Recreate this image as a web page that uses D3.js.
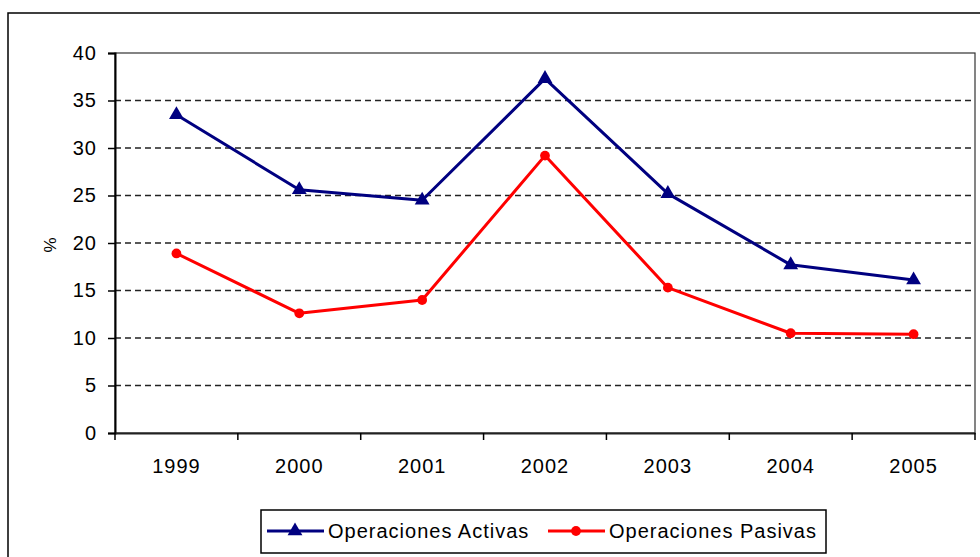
<!DOCTYPE html>
<html>
<head>
<meta charset="utf-8">
<script src="https://cdn.jsdelivr.net/npm/d3@7"></script>
<style>
  body { margin: 0; background: #fff; }
  text { font-family: "Liberation Sans", Arial, sans-serif; fill: #000; }
</style>
</head>
<body>
<svg width="980" height="557"></svg>
<script>
var years = ['1999', '2000', '2001', '2002', '2003', '2004', '2005'];
var activas = [33.5, 25.6, 24.5, 37.3, 25.2, 17.7, 16.1];
var pasivas = [18.9, 12.6, 14.0, 29.2, 15.3, 10.5, 10.4];
var yTicks = [0, 5, 10, 15, 20, 25, 30, 35, 40];
var seriesNames = ['Operaciones Activas', 'Operaciones Pasivas'];
var seriesColors = ['#000080', '#ff0000'];

var svg = d3.select('svg'),
  width = +svg.attr('width'),
  height = +svg.attr('height');

var plotLeft = 115, plotRight = 975, plotTop = 53, plotBottom = 433;

var x = d3.scaleBand().domain(years).range([plotLeft, plotRight]).padding(0);
var y = d3.scaleLinear().domain([0, 40]).range([plotBottom, plotTop]);

// outer chart frame
svg.append('rect')
  .attr('x', 8).attr('y', 13)
  .attr('width', 990).attr('height', 570)
  .attr('fill', 'none').attr('stroke', '#000').attr('stroke-width', 1.5)

// plot area border
svg.append('rect')
  .attr('x', plotLeft).attr('y', plotTop)
  .attr('width', plotRight - plotLeft).attr('height', plotBottom - plotTop)
  .attr('fill', 'none').attr('stroke', '#333').attr('stroke-width', 1.2)

// dashed grid
svg.append('g').selectAll('line')
  .data(yTicks.filter(d => d > 0 && d < 40))
  .enter().append('line')
  .attr('x1', plotLeft).attr('x2', plotRight)
  .attr('y1', d => y(d)).attr('y2', d => y(d))
  .attr('stroke', '#222').attr('stroke-width', 1.5)
  .attr('stroke-dasharray', '6,4')

// y axis
var yAxis = svg.append('g')
  .attr('transform', 'translate(' + plotLeft + ',0)')
  .call(d3.axisLeft(y).tickValues(yTicks).tickSize(7).tickPadding(11))
yAxis.select('.domain').attr('stroke', '#000').attr('stroke-width', 2)
yAxis.selectAll('.tick line').attr('stroke', '#000').attr('stroke-width', 1.5)
yAxis.selectAll('text')
  .style('font-size', '20px').style('letter-spacing', '1px')
  .style('font-family', '"Liberation Sans", Arial, sans-serif').attr('fill', '#000')

// x axis
var xAxis = svg.append('g')
  .attr('transform', 'translate(0,' + plotBottom + ')')
  .call(d3.axisBottom(x).tickSize(0).tickPadding(26))
xAxis.select('.domain').attr('stroke', '#222').attr('stroke-width', 2)
xAxis.selectAll('text')
  .style('font-size', '20px').style('letter-spacing', '1px')
  .style('font-family', '"Liberation Sans", Arial, sans-serif').attr('fill', '#000')

var bounds = years.map(d => x(d)).concat([plotRight]);
svg.append('g').selectAll('line')
  .data(bounds)
  .enter().append('line')
  .attr('x1', d => d).attr('x2', d => d)
  .attr('y1', plotBottom).attr('y2', plotBottom + 7)
  .attr('stroke', '#000').attr('stroke-width', 1.5)

// y title
svg.append('text')
  .attr('transform', 'translate(56,245) rotate(-90)')
  .attr('text-anchor', 'middle')
  .style('font-size', '17px')
  .text('%')

var cx = d => x(d) + x.bandwidth() / 2;
var line = d3.line().x(d => cx(d[0])).y(d => y(d[1]));

var tri = d3.symbol().type(d3.symbolTriangle).size(95);
var dot = d3.symbol().type(d3.symbolCircle).size(75);
var shapes = [tri, dot];

[activas, pasivas].forEach(function (vals, i) {
  var pts = years.map((yr, j) => [yr, vals[j]]);
  svg.append('path')
    .datum(pts)
    .attr('d', line)
    .attr('fill', 'none')
    .attr('stroke', seriesColors[i])
    .attr('stroke-width', 3)
    .attr('stroke-linejoin', 'round')

  svg.append('g').selectAll('path')
    .data(pts)
    .enter().append('path')
    .attr('d', shapes[i])
    .attr('transform', d => 'translate(' + cx(d[0]) + ',' + y(d[1]) + ')')
    .attr('fill', seriesColors[i])
})

// legend
var legend = svg.append('g')
legend.append('rect')
  .attr('x', 261).attr('y', 510)
  .attr('width', 565).attr('height', 43)
  .attr('fill', '#fff').attr('stroke', '#000').attr('stroke-width', 1.5)

var legX = [267, 548];
seriesNames.forEach(function (name, i) {
  var lx = legX[i];
  legend.append('line')
    .attr('x1', lx).attr('x2', lx + 57)
    .attr('y1', 531).attr('y2', 531)
    .attr('stroke', seriesColors[i]).attr('stroke-width', 3)
  legend.append('path')
    .attr('d', shapes[i])
    .attr('transform', 'translate(' + (lx + 28) + ',531)')
    .attr('fill', seriesColors[i])
  legend.append('text')
    .attr('x', lx + 61).attr('y', 531).attr('dy', '0.35em')
    .style('font-size', '20px').style('letter-spacing', '1px')
    .text(name)
})
</script>
</body>
</html>
